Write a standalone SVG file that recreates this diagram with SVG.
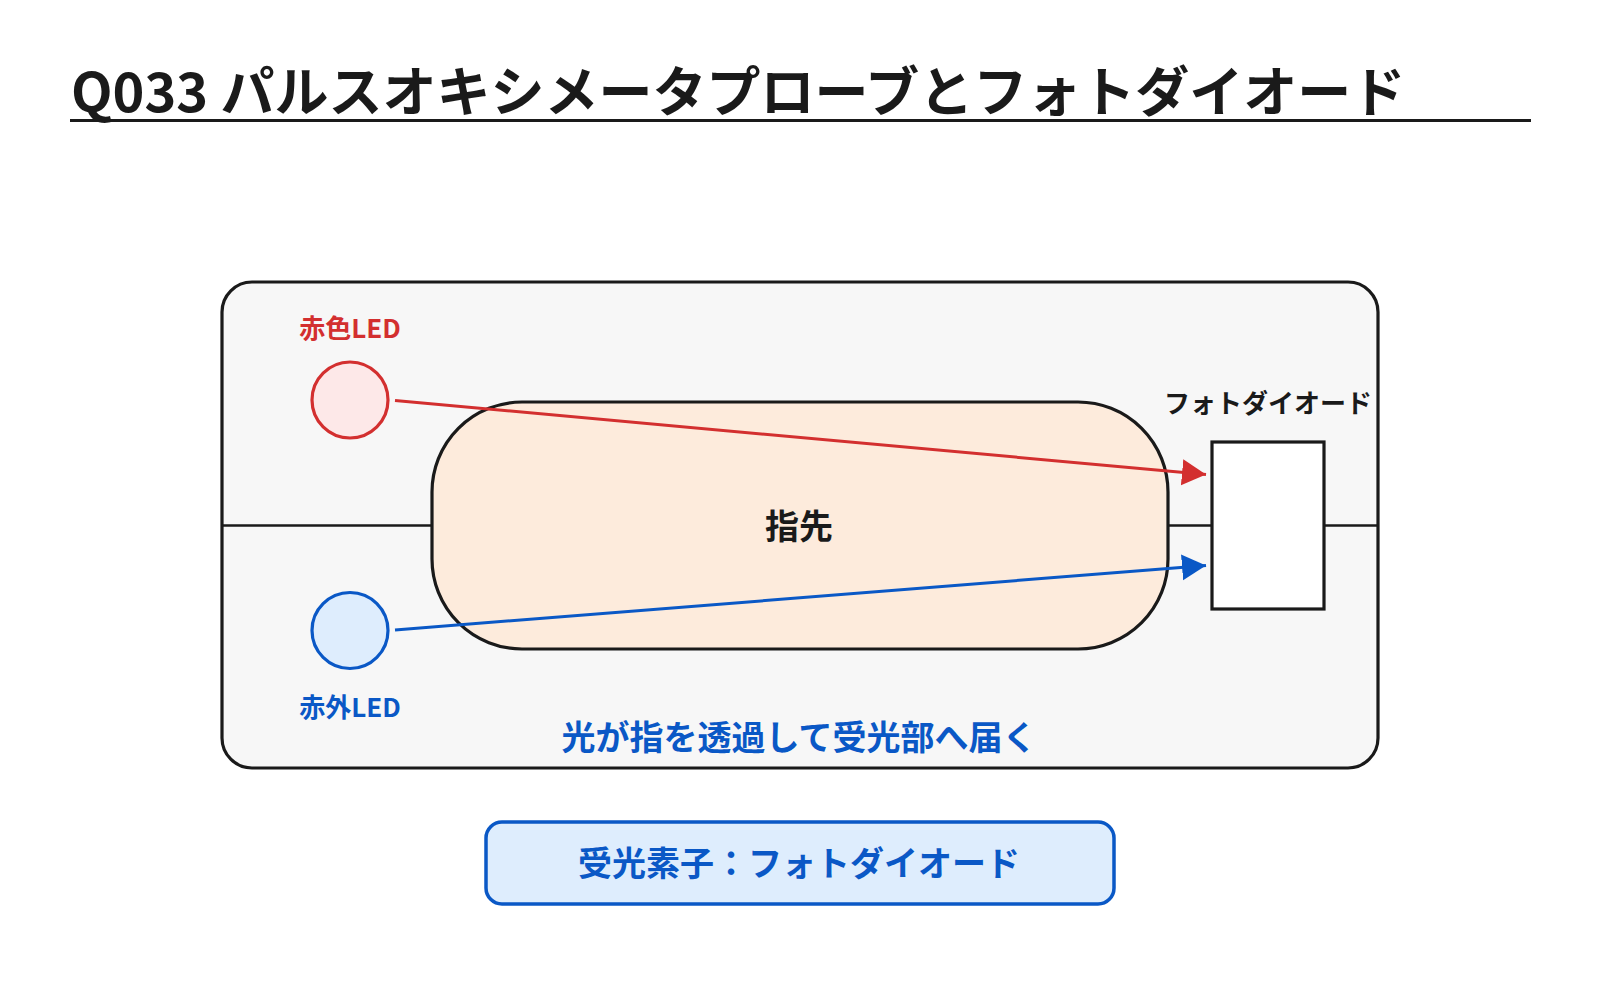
<svg xmlns="http://www.w3.org/2000/svg" width="1600" height="1000" viewBox="0 0 1600 1000">
<defs>
<style>
text{font-family:"Noto Sans CJK JP","Noto Sans",sans-serif;font-weight:700;}
.title{font-size:54px;fill:#1a1a1a;}
.lbl{font-size:26px;text-anchor:middle;}
.mid{font-size:34px;text-anchor:middle;}
.dark{stroke:#1a1a1a;stroke-width:3.2;}
</style>
<marker id="arR" markerUnits="userSpaceOnUse" markerWidth="26" markerHeight="28" refX="24" refY="13" orient="auto"><path d="M0,0 L24,13 L0,26 Z" fill="#d32f2f"/></marker>
<marker id="arB" markerUnits="userSpaceOnUse" markerWidth="26" markerHeight="28" refX="24" refY="13" orient="auto"><path d="M0,0 L24,13 L0,26 Z" fill="#0a58c6"/></marker>
</defs>
<rect width="1600" height="1000" fill="#ffffff"/>
<g id="title">
<text class="title" x="71" y="112">Q033 パルスオキシメータプローブとフォトダイオード</text>
<line x1="70" y1="120.5" x2="1531" y2="120.5" stroke="#1a1a1a" stroke-width="3"/>
</g>
<g id="probe">
<rect x="222" y="282" width="1156" height="486" rx="30" fill="#f7f7f7" class="dark"/>
<line x1="222" y1="525.5" x2="1378" y2="525.5" stroke="#1a1a1a" stroke-width="2.5"/>
<text class="mid" x="799" y="750" fill="#0a58c6">光が指を透過して受光部へ届く</text>
</g>
<g id="finger">
<rect x="432" y="402" width="736" height="247" rx="90" fill="#fdebdc" class="dark"/>
<text class="mid" x="799" y="539" fill="#1a1a1a">指先</text>
</g>
<g id="red-led">
<circle cx="350" cy="400" r="38" fill="#fde8e8" stroke="#d32f2f" stroke-width="3.2"/>
<text class="lbl" x="350" y="338" fill="#d32f2f">赤色LED</text>
</g>
<g id="ir-led">
<circle cx="350" cy="630.5" r="38" fill="#deedfd" stroke="#0a58c6" stroke-width="3.2"/>
<text class="lbl" x="350" y="717" fill="#0a58c6">赤外LED</text>
</g>
<g id="photodiode">
<rect x="1212" y="442" width="112" height="167" fill="#ffffff" class="dark"/>
<text class="lbl" x="1268" y="413" fill="#1a1a1a">フォトダイオード</text>
</g>
<g id="connectors">
<line x1="395" y1="400.5" x2="1206" y2="474.5" stroke="#d32f2f" stroke-width="3" marker-end="url(#arR)"/>
<line x1="395" y1="630" x2="1206" y2="565.5" stroke="#0a58c6" stroke-width="3" marker-end="url(#arB)"/>
</g>
<g id="note">
<rect x="486" y="822" width="628" height="82" rx="16" fill="#deedfd" stroke="#0a58c6" stroke-width="3.5"/>
<text class="mid" x="799" y="876" fill="#0a58c6">受光素子：フォトダイオード</text>
</g>
</svg>
